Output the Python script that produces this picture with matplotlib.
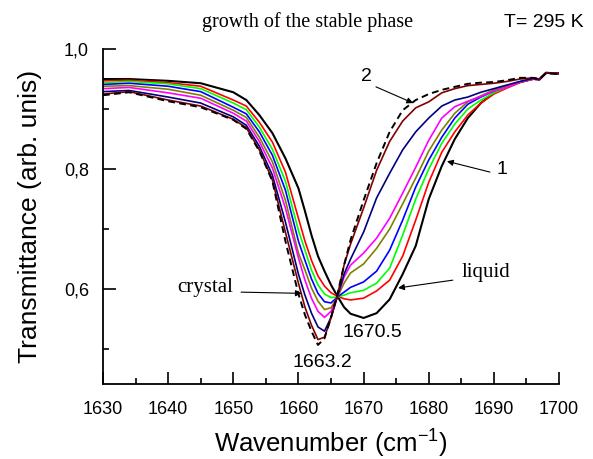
import matplotlib
matplotlib.use("Agg")
import matplotlib.pyplot as plt
import numpy as np

plt.rcParams['font.family'] = ['Liberation Sans', 'DejaVu Sans']

# wavenumber grid (cm-1) shared by all spectra
wavenumber = [1630, 1634, 1640, 1645, 1650, 1652, 1654, 1656, 1658, 1660,
              1661, 1662, 1663, 1664, 1665, 1666, 1667, 1668, 1670, 1672,
              1674, 1676, 1678, 1680, 1682, 1684, 1686, 1688, 1690, 1692,
              1694, 1696, 1697, 1698, 1700]

# curve 1: liquid
liquid = [0.950, 0.950, 0.947, 0.943, 0.928, 0.915, 0.890, 0.860, 0.818, 0.768,
          0.730, 0.690, 0.655, 0.630, 0.607, 0.588, 0.570, 0.559, 0.552, 0.560,
          0.583, 0.625, 0.672, 0.750, 0.805, 0.850, 0.885, 0.910, 0.927, 0.937,
          0.945, 0.950, 0.950, 0.960, 0.960]
red = [0.947, 0.948, 0.944, 0.938, 0.915, 0.905, 0.878, 0.845, 0.795, 0.718,
       0.680, 0.648, 0.622, 0.605, 0.594, 0.588, 0.584, 0.582, 0.585, 0.597,
       0.615, 0.655, 0.715, 0.778, 0.828, 0.862, 0.890, 0.910, 0.925, 0.935,
       0.944, 0.950, 0.949, 0.960, 0.959]
green = [0.944, 0.946, 0.942, 0.934, 0.910, 0.899, 0.870, 0.833, 0.780, 0.698,
         0.665, 0.632, 0.607, 0.592, 0.586, 0.587, 0.590, 0.594, 0.598, 0.610,
         0.635, 0.690, 0.750, 0.800, 0.843, 0.875, 0.900, 0.915, 0.927, 0.937,
         0.945, 0.950, 0.949, 0.960, 0.959]
blue = [0.941, 0.943, 0.938, 0.929, 0.903, 0.892, 0.862, 0.823, 0.765, 0.680,
        0.648, 0.617, 0.593, 0.579, 0.577, 0.587, 0.595, 0.603, 0.612, 0.630,
        0.665, 0.715, 0.770, 0.815, 0.853, 0.885, 0.908, 0.920, 0.930, 0.938,
        0.945, 0.950, 0.949, 0.960, 0.959]
olive = [0.938, 0.939, 0.933, 0.923, 0.898, 0.886, 0.853, 0.812, 0.748, 0.660,
         0.632, 0.602, 0.580, 0.566, 0.569, 0.587, 0.610, 0.627, 0.642, 0.668,
         0.700, 0.742, 0.785, 0.830, 0.865, 0.893, 0.912, 0.922, 0.932, 0.938,
         0.945, 0.950, 0.949, 0.960, 0.959]
magenta = [0.934, 0.936, 0.927, 0.918, 0.893, 0.880, 0.846, 0.802, 0.735, 0.652,
           0.615, 0.585, 0.563, 0.553, 0.563, 0.588, 0.620, 0.640, 0.660, 0.685,
           0.718, 0.760, 0.803, 0.848, 0.885, 0.904, 0.913, 0.921, 0.930, 0.936,
           0.945, 0.950, 0.949, 0.960, 0.959]
navy = [0.929, 0.931, 0.920, 0.910, 0.887, 0.873, 0.838, 0.790, 0.712, 0.625,
        0.590, 0.560, 0.537, 0.530, 0.553, 0.588, 0.625, 0.650, 0.695, 0.752,
        0.793, 0.832, 0.862, 0.885, 0.905, 0.915, 0.920, 0.928, 0.934, 0.940,
        0.946, 0.951, 0.949, 0.960, 0.959]
brown = [0.925, 0.929, 0.915, 0.905, 0.883, 0.869, 0.832, 0.782, 0.695, 0.610,
         0.570, 0.540, 0.516, 0.520, 0.552, 0.590, 0.640, 0.675, 0.735, 0.798,
         0.846, 0.880, 0.902, 0.912, 0.927, 0.934, 0.939, 0.941, 0.943, 0.946,
         0.950, 0.952, 0.950, 0.961, 0.959]
# curve 2: crystal (dashed)
crystal = [0.923, 0.928, 0.913, 0.903, 0.882, 0.867, 0.830, 0.780, 0.680, 0.592,
           0.557, 0.530, 0.507, 0.518, 0.553, 0.592, 0.640, 0.682, 0.748, 0.810,
           0.862, 0.898, 0.915, 0.925, 0.932, 0.937, 0.942, 0.944, 0.945, 0.948,
           0.952, 0.952, 0.950, 0.960, 0.958]

series = [liquid, red, green, blue, olive, magenta, navy, brown]
colors = ['black', '#ff0000', '#00ff00', '#0000ff', '#808000', '#ff00ff', '#000080', '#800000']

fig = plt.figure(figsize=(5.93, 4.59), dpi=100)
ax = fig.add_axes([0.1737, 0.1634, 0.769, 0.7298])

x = np.array(wavenumber)
for y, c in zip(series, colors):
    lw = 1.5 if c == 'black' else 1.2
    ax.plot(x, y, color=c, lw=lw)
ax.plot(x, crystal, color='black', lw=1.4, linestyle=(0, (3.5, 2.2)))

ax.set_xlim(1630, 1700)
ax.set_ylim(0.442, 1.0)
ax.set_xticks(np.arange(1630, 1701, 10))
ax.set_xticks(np.arange(1635, 1700, 10), minor=True)
ax.set_yticks([0.6, 0.8, 1.0])
ax.set_yticklabels(['0,6', '0,8', '1,0'])
ax.set_yticks([0.5, 0.7, 0.9], minor=True)
ax.spines['top'].set_visible(False)
ax.spines['right'].set_visible(False)
for s in ['left', 'bottom']:
    ax.spines[s].set_linewidth(1.3)
ax.tick_params(which='major', direction='in', length=9, width=1.2, labelsize=13)
ax.tick_params(which='minor', direction='in', length=4.5, width=1.2)
ax.tick_params(axis='x', which='major', pad=12)
ax.tick_params(axis='y', which='major', pad=10)

ax.set_xlabel('Wavenumber (cm$^{\\mathregular{-1}}$)', fontsize=18.5)
ax.xaxis.set_label_coords(0.5, -0.125)
ax.set_ylabel('Transmittance (arb. unis)', fontsize=19)
ax.yaxis.set_label_coords(-0.134, 0.5)

fig.text(0.518, 0.952, 'growth of the stable phase', family='Liberation Serif',
         fontsize=14.5, ha='center', va='center')
fig.text(0.917, 0.952, 'T= 295 K', fontsize=14, ha='center', va='center')

arrow = dict(arrowstyle='-|>', color='black', lw=0.8, mutation_scale=9, shrinkA=0, shrinkB=0)
ax.annotate('', xy=(1677.6, 0.910), xytext=(1671.9, 0.937), arrowprops=arrow)
ax.text(1670.5, 0.955, '2', fontsize=14, ha='center', va='center')
ax.annotate('', xy=(1682.8, 0.813), xytext=(1689.4, 0.795), arrowprops=arrow)
ax.text(1691.3, 0.800, '1', fontsize=14, ha='center', va='center')
ax.annotate('', xy=(1675.3, 0.602), xytext=(1683.7, 0.615), arrowprops=arrow)
ax.text(1688.8, 0.628, 'liquid', family='Liberation Serif', fontsize=15, ha='center', va='center')
ax.annotate('', xy=(1660.5, 0.593), xytext=(1651.2, 0.595), arrowprops=arrow)
ax.text(1645.7, 0.602, 'crystal', family='Liberation Serif', fontsize=15, ha='center', va='center')
ax.text(1671.3, 0.528, '1670.5', fontsize=14, ha='center', va='center')
ax.text(1663.6, 0.478, '1663.2', fontsize=14, ha='center', va='center')

fig.savefig('out.png', dpi=100)
